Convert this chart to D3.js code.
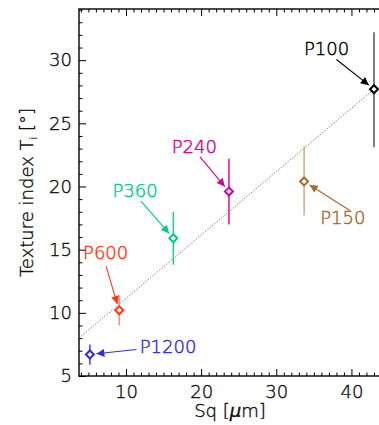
<!DOCTYPE html>
<html>
<head>
<meta charset="utf-8">
<script src="https://cdn.jsdelivr.net/npm/d3@7"></script>
<style>
  body { margin: 0; background: #fff; }
  svg { display: block; font-family: "DejaVu Sans ExtraLight", "DejaVu Sans", sans-serif; font-weight: 200; }
  .axis path { display: none; }
  .axis line { stroke: #000; stroke-width: 1; }
  .axis text { font-size: 18px; fill: #111; stroke: #111; stroke-width: 0.4; font-family: "DejaVu Sans ExtraLight", "DejaVu Sans", sans-serif; font-weight: 200; }
</style>
</head>
<body>
<svg id="chart" width="379" height="425"></svg>
<script>
// sample names, colours and values
var samples = ['P1200', 'P600', 'P360', 'P240', 'P150', 'P100'];
var colors = ['#3030c8', '#ff3a10', '#00c890', '#d0009a', '#a8682c', '#000000'];
var barColors = ['#4040cc', '#ff8c70', '#20cc98', '#d010a0', '#d4aa80', '#555555'];
var sq = [5.2, 9.1, 16.3, 23.7, 33.7, 43.0];
var texture = [6.7, 10.2, 15.9, 19.6, 20.4, 27.7];
var errLow = [5.9, 9.0, 13.8, 17.0, 17.7, 23.1];
var errHigh = [7.5, 11.4, 18.0, 22.2, 23.2, 32.2];

// dotted fit line end points
var fitX = [3.75, 43.0];
var fitY = [8.0, 27.7];

// label anchors (data units): text centre and arrow tail
var labelX = [15.6, 7.3, 11.2, 19.1, 38.85, 36.7];
var labelY = [7.35, 14.8, 19.7, 23.2, 17.55, 30.9];
var tailX = [11.4, 7.35, 12.0, 19.85, 39.8, 38.0];
var tailY = [7.1, 13.7, 18.85, 22.35, 18.1, 30.05];

var xTicks = [10, 20, 30, 40];
var yTicks = [5, 10, 15, 20, 25, 30];

var svg = d3.select('#chart');
var pLeft = 79, pRight = 380, pTop = 9, pBottom = 376;

var x = d3.scaleLinear().domain([3.75, 43.8]).range([pLeft, pRight]);
var y = d3.scaleLinear().domain([5, 34.05]).range([pBottom, pTop]);

var minorX = d3.range(4, 44, 1).filter(v => xTicks.indexOf(v) < 0);
var minorY = d3.range(6, 35, 1).filter(v => yTicks.indexOf(v) < 0);

// bottom axis
svg.append('g').attr('class', 'axis')
  .attr('transform', `translate(0,${pBottom})`)
  .call(d3.axisBottom(x).tickValues(xTicks).tickSize(-7).tickPadding(9).tickFormat(d3.format('d')));
svg.append('g').attr('class', 'axis')
  .attr('transform', `translate(0,${pBottom})`)
  .call(d3.axisBottom(x).tickValues(minorX).tickSize(-3.5).tickFormat(''));
// top axis
svg.append('g').attr('class', 'axis')
  .attr('transform', `translate(0,${pTop})`)
  .call(d3.axisTop(x).tickValues(xTicks).tickSize(-7).tickFormat(''));
svg.append('g').attr('class', 'axis')
  .attr('transform', `translate(0,${pTop})`)
  .call(d3.axisTop(x).tickValues(minorX).tickSize(-3.5).tickFormat(''));
// left axis
svg.append('g').attr('class', 'axis')
  .attr('transform', `translate(${pLeft},0)`)
  .call(d3.axisLeft(y).tickValues(yTicks).tickSize(-7).tickPadding(7).tickFormat(d3.format('d')));
svg.append('g').attr('class', 'axis')
  .attr('transform', `translate(${pLeft},0)`)
  .call(d3.axisLeft(y).tickValues(minorY).tickSize(-3.5).tickFormat(''));

// frame
svg.append('rect')
  .attr('x', pLeft).attr('y', pTop)
  .attr('width', pRight - pLeft).attr('height', pBottom - pTop)
  .style('fill', 'none').style('stroke', '#000').style('stroke-width', 1.4);

// fit line
svg.append('line')
  .attr('x1', x(fitX[0])).attr('y1', y(fitY[0]))
  .attr('x2', x(fitX[1])).attr('y2', y(fitY[1]))
  .style('stroke', '#777').style('stroke-width', 0.9)
  .style('stroke-dasharray', '1.5,1.5');

// arrow heads
var defs = svg.append('defs');
samples.forEach((s, i) => {
  defs.append('marker')
    .attr('id', 'arrow' + i)
    .attr('viewBox', '0 0 10 10')
    .attr('refX', 10).attr('refY', 5)
    .attr('markerWidth', 9).attr('markerHeight', 8)
    .attr('markerUnits', 'userSpaceOnUse')
    .attr('orient', 'auto')
    .append('path')
    .attr('d', 'M0,0 L10,5 L0,10 Z')
    .style('fill', colors[i]);
});

// error bars
svg.selectAll('.err')
  .data(samples)
  .enter().append('line')
  .attr('class', 'err')
  .attr('x1', (d, i) => x(sq[i])).attr('x2', (d, i) => x(sq[i]))
  .attr('y1', (d, i) => y(errLow[i])).attr('y2', (d, i) => y(errHigh[i]))
  .style('stroke', (d, i) => barColors[i])
  .style('stroke-width', 1.5);

// diamonds
svg.selectAll('.pt')
  .data(samples)
  .enter().append('path')
  .attr('class', 'pt')
  .attr('transform', (d, i) => `translate(${x(sq[i])},${y(texture[i])})`)
  .attr('d', 'M0,-4 L4,0 L0,4 L-4,0 Z')
  .style('fill', '#fff')
  .style('stroke', (d, i) => colors[i])
  .style('stroke-width', 2);

// arrows
svg.selectAll('.arr')
  .data(samples)
  .enter().append('line')
  .attr('class', 'arr')
  .each(function (d, i) {
    var x0 = x(tailX[i]), y0 = y(tailY[i]);
    var x1 = x(sq[i]), y1 = y(texture[i]);
    var len = Math.hypot(x1 - x0, y1 - y0);
    var k = (len - 6.5) / len;
    d3.select(this)
      .attr('x1', x0).attr('y1', y0)
      .attr('x2', x0 + (x1 - x0) * k).attr('y2', y0 + (y1 - y0) * k);
  })
  .style('stroke', (d, i) => colors[i])
  .style('stroke-width', 1.1)
  .attr('marker-end', (d, i) => `url(#arrow${i})`);

// labels
svg.selectAll('.lbl')
  .data(samples)
  .enter().append('text')
  .attr('class', 'lbl')
  .attr('x', (d, i) => x(labelX[i]))
  .attr('y', (d, i) => y(labelY[i]))
  .attr('text-anchor', 'middle')
  .attr('dominant-baseline', 'central')
  .style('font-size', '18px')
  .style('fill', (d, i) => colors[i])
  .style('stroke', (d, i) => colors[i])
  .style('stroke-width', 0.45)
  .text(d => d);

// axis titles
svg.append('text')
  .attr('x', 230)
  .attr('y', 417)
  .attr('text-anchor', 'middle')
  .style('font-size', '18px')
  .style('fill', '#111').style('stroke', '#111').style('stroke-width', 0.4)
  .html('Sq [<tspan font-style="italic">μ</tspan>m]');

var yt = svg.append('text')
  .attr('transform', `translate(33,${(pTop + pBottom) / 2}) rotate(-90)`)
  .attr('text-anchor', 'middle')
  .style('font-size', '18px')
  .style('fill', '#111').style('stroke', '#111').style('stroke-width', 0.4);
yt.append('tspan').text('Texture index T');
yt.append('tspan').attr('font-size', '10px').attr('dy', 4).text('i');
yt.append('tspan').attr('dy', -4).text(' [°]');
</script>
</body>
</html>
